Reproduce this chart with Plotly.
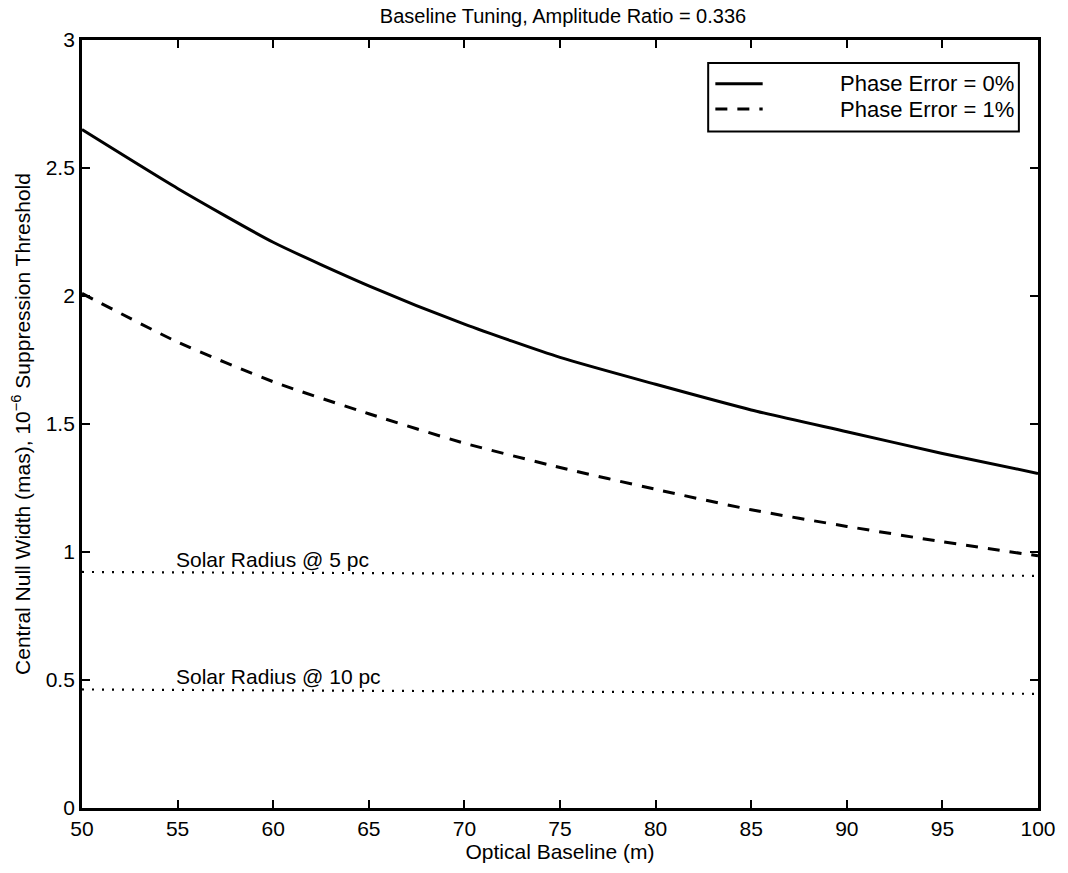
import plotly.graph_objects as go

baseline_m = [50, 55, 60, 65, 70, 75, 80, 85, 90, 95, 100]
null_width_err0 = [2.65, 2.42, 2.21, 2.04, 1.89, 1.76, 1.655, 1.555, 1.47, 1.385, 1.307]
null_width_err1 = [2.01, 1.82, 1.665, 1.54, 1.425, 1.33, 1.245, 1.165, 1.10, 1.04, 0.985]

solar_x = [50, 100]
solar_5pc = [0.922, 0.907]
solar_10pc = [0.463, 0.446]

x_ticks = [50, 55, 60, 65, 70, 75, 80, 85, 90, 95, 100]
y_ticks = [0, 0.5, 1, 1.5, 2, 2.5, 3]
y_tick_labels = ["0", "0.5", "1", "1.5", "2", "2.5", "3"]

FONT = "Liberation Sans, Arial, Helvetica, sans-serif"

fig = go.Figure()
fig.add_trace(go.Scatter(x=baseline_m, y=null_width_err0, mode="lines", name="Phase Error = 0%",
                         line=dict(color="black", width=3, shape="spline", smoothing=0.6)))
fig.add_trace(go.Scatter(x=baseline_m, y=null_width_err1, mode="lines", name="Phase Error = 1%",
                         line=dict(color="black", width=3, dash="12px,10px", shape="spline", smoothing=0.6)))
fig.add_trace(go.Scatter(x=solar_x, y=solar_5pc, mode="lines", name="Solar Radius @ 5 pc",
                         line=dict(color="black", width=2.2, dash="2px,8px")))
fig.add_trace(go.Scatter(x=solar_x, y=solar_10pc, mode="lines", name="Solar Radius @ 10 pc",
                         line=dict(color="black", width=2.2, dash="2px,8px")))

fig.add_annotation(x=54.83, y=0.972, xref="x", yref="y", text="Solar Radius @ 5 pc", showarrow=False,
                   xanchor="left", yanchor="middle", font=dict(family=FONT, size=21, color="black"))
fig.add_annotation(x=54.83, y=0.512, xref="x", yref="y", text="Solar Radius @ 10 pc", showarrow=False,
                   xanchor="left", yanchor="middle", font=dict(family=FONT, size=21, color="black"))

# custom legend box (matching the reference layout)
fig.add_shape(type="rect", xref="paper", yref="paper", x0=0.655, x1=0.980, y0=0.881, y1=0.970,
              line=dict(color="black", width=2), fillcolor="white")
fig.add_shape(type="line", xref="paper", yref="paper", x0=0.6625, x1=0.712, y0=0.943, y1=0.943,
              line=dict(color="black", width=3))
fig.add_shape(type="line", xref="paper", yref="paper", x0=0.6625, x1=0.712, y0=0.910, y1=0.910,
              line=dict(color="black", width=3, dash="12px,10px"))
fig.add_annotation(x=0.977, y=0.943, xref="paper", yref="paper", text="Phase Error = 0%", showarrow=False,
                   xanchor="right", yanchor="middle", font=dict(family=FONT, size=22, color="black"))
fig.add_annotation(x=0.977, y=0.910, xref="paper", yref="paper", text="Phase Error = 1%", showarrow=False,
                   xanchor="right", yanchor="middle", font=dict(family=FONT, size=22, color="black"))

fig.update_layout(
    width=1068, height=873,
    margin=dict(l=82, r=23, t=40, b=62),
    paper_bgcolor="white", plot_bgcolor="white",
    showlegend=False,
    font=dict(family=FONT, color="black"),
    title=dict(text="Baseline Tuning, Amplitude Ratio = 0.336", x=563 / 1068, xanchor="center",
               y=1 - 16 / 873, yanchor="middle", yref="container",
               font=dict(family=FONT, size=20, color="black")),
)
fig.update_xaxes(range=[50, 100], tickvals=x_ticks, ticks="inside", ticklen=8, tickwidth=2,
                 tickcolor="black", showline=True, linecolor="black", linewidth=2.8, mirror="ticks",
                 showgrid=False, zeroline=False,
                 tickfont=dict(family=FONT, size=21, color="black"),
                 title=dict(text="Optical Baseline (m)", font=dict(family=FONT, size=21, color="black"),
                            standoff=6))
fig.update_yaxes(range=[0, 3], tickvals=y_ticks, ticktext=y_tick_labels, ticks="inside", ticklen=8, tickwidth=2,
                 tickcolor="black", showline=True, linecolor="black", linewidth=2.8, mirror="ticks",
                 showgrid=False, zeroline=False,
                 tickfont=dict(family=FONT, size=21, color="black"),
                 title=dict(text="Central Null Width (mas), 10<sup>−6</sup> Suppression Threshold",
                            font=dict(family=FONT, size=21, color="black"), standoff=10))

fig.write_html("out.html")
